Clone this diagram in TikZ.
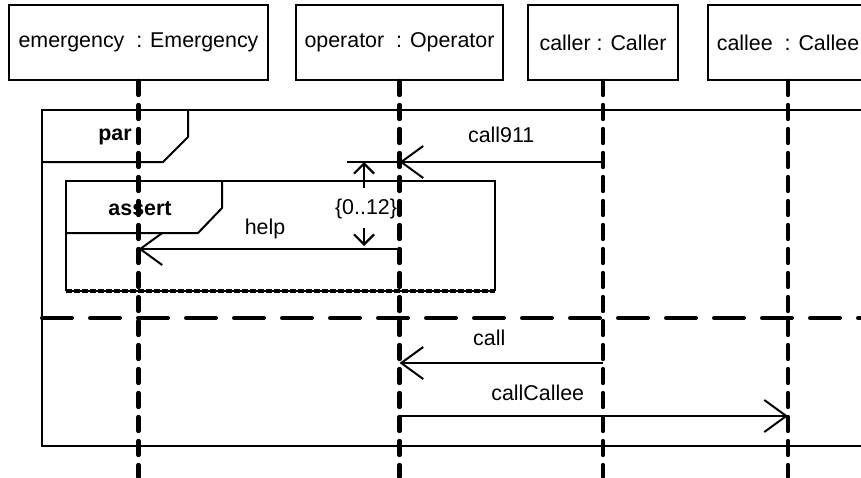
\documentclass[tikz,border=0pt]{standalone}
\usepackage{fontspec}
\setmainfont{Liberation Sans}
\usetikzlibrary{arrows.meta,positioning,calc}

\begin{document}
\begin{tikzpicture}[
  x=0.5pt, y=-0.5pt,
  font=\fontsize{10.7}{12}\selectfont,
  obj/.style={draw, line width=1pt, minimum height=37.5pt, inner sep=0pt},
  lifeline/.style={line width=2.2pt, dash pattern=on 7pt off 5pt, line cap=round},
  msg/.style={line width=1pt, -{Straight Barb[length=11pt, width=16pt, line width=1pt]}},
  frm/.style={line width=1pt},
  sep/.style={line width=2pt, dash pattern=on 15pt off 9pt, line cap=round},
  dur/.style={line width=1pt, -{Straight Barb[length=5pt, width=10pt, line width=1.1pt]}},
  kw/.style={font=\fontsize{10.7}{12}\selectfont\bfseries}
]
\useasboundingbox (0,0) rectangle (861,477);
\clip (0,0) rectangle (861,477);

% lifeline heads
\node[obj, minimum width=129.5pt] (emg) at (138.5,42.5) {emergency\ \ : Emergency};
\node[obj, minimum width=103.5pt] (opr) at (399.5,42.5) {operator\ \ : Operator};
\node[obj, minimum width=75pt] (clr) at (603,42.5) {caller : Caller};
\node[obj, minimum width=80pt] (cle) at (788,42.5) {callee\ \ : Callee};

% par fragment
\draw[frm] (42,110) rectangle (875,446);
\draw[frm] (42,162) -- (163,162) -- (188,137) -- (188,110);
\node[kw] (par) at (115,137) {par};
\draw[sep] (42,318) -- (875,318);

% assert fragment
\draw[frm] (66,291) -- (66,181) -- (495,181) -- (495,291);
\draw[line width=1pt] (66,291) -- (495,291);
\draw[line width=2pt, dash pattern=on 3pt off 1pt] (66,291) -- (495,291);
\draw[frm] (66,233) -- (198,233) -- (222,208) -- (222,181);
\node[kw] (asrt) at (140,209) {assert};

% lifelines
\coordinate (bot) at (0,477);
\foreach \o in {emg,opr,clr,cle}
  \draw[lifeline] (\o.south) -- (\o.south |- bot);

% message ends
\coordinate (c911a) at (clr.south |- 0,162);
\coordinate (c911b) at (opr.south |- 0,162);
\coordinate (helpa) at (opr.south |- 0,249);
\coordinate (helpb) at (emg.south |- 0,249);
\coordinate (calla) at (clr.south |- 0,363);
\coordinate (callb) at (opr.south |- 0,363);
\coordinate (ccla) at (opr.south |- 0,416);
\coordinate (cclb) at (cle.south |- 0,416);

\draw[msg] (c911a) -- node[above=6pt] {call911} (c911b);
\draw[msg] (helpa) -- node[above=1pt, xshift=-2pt] {help} (helpb);
\draw[msg] (calla) -- node[above=5pt, xshift=-6pt] {call} (callb);
\draw[msg] (ccla) -- node[above=4pt, xshift=-28pt] {callCallee} (cclb);

% duration constraint
\coordinate (dtop) at (347,162);
\coordinate (dx) at (364,0);
\draw[line width=1pt] (dtop) -- (c911b);
\node (dlab) at (366,209) {\{0..12\}};
\draw[dur] ($(dlab.north -| dx)+(0,-4)$) -- (dx |- c911b);
\draw[dur] ($(dlab.south -| dx)+(0,2)$) -- ($(dx |- helpa)+(0,-3)$);
\end{tikzpicture}
\end{document}
